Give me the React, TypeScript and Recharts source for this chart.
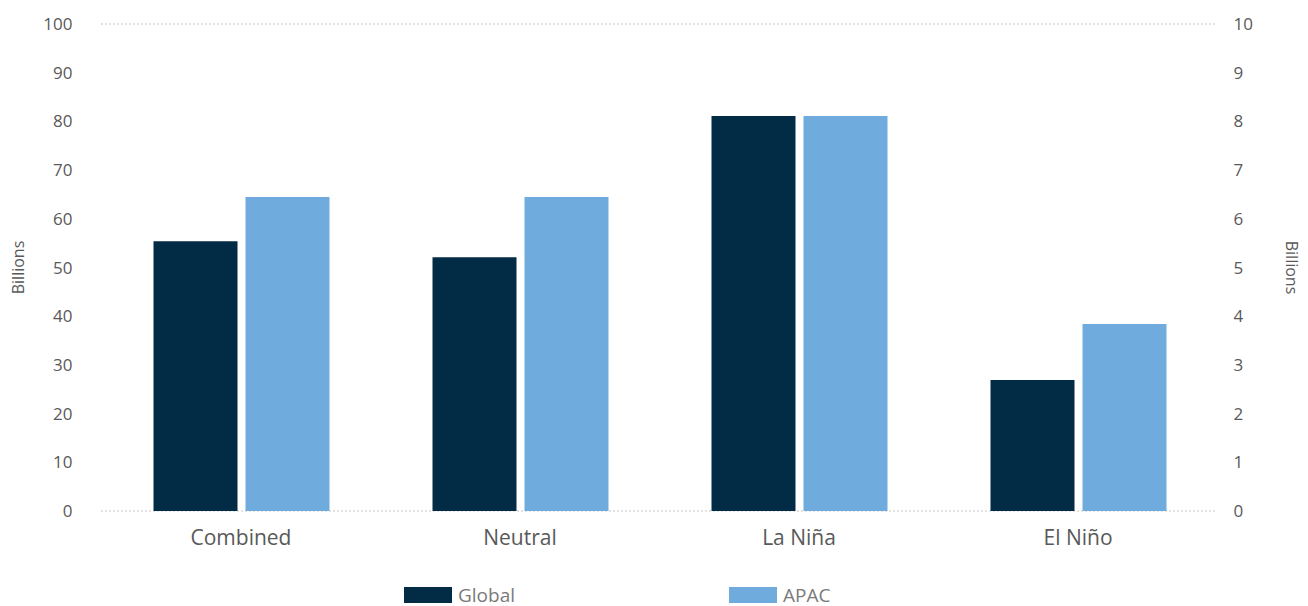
import React from "react";
import { BarChart, Bar, XAxis, YAxis, CartesianGrid } from "recharts";

// Categories and series values (Global on the left axis, APAC on the right axis, both in billions)
const categories = ["Combined", "Neutral", "La Niña", "El Niño"];
const globalValues = [55.4, 52.1, 81.1, 26.9];
const apacValues = [6.45, 6.45, 8.11, 3.84];
const leftTicks = [0, 10, 20, 30, 40, 50, 60, 70, 80, 90, 100];
const rightTicks = [0, 1, 2, 3, 4, 5, 6, 7, 8, 9, 10];

const data = categories.map((name, i) => ({
  name,
  Global: globalValues[i],
  APAC: apacValues[i],
}));

const FONT = "'Open Sans', sans-serif";
const GLOBAL_COLOR = "#022b45";
const APAC_COLOR = "#6facdd";
const TEXT_COLOR = "#595959";

const legendItems = [
  { label: "Global", color: GLOBAL_COLOR },
  { label: "APAC", color: APAC_COLOR },
];

export default function App() {
  return (
    <div style={{ position: "absolute", left: 0, top: 0, width: 1308, height: 606, background: "#fff" }}>
      <BarChart
        width={1308}
        height={606}
        data={data}
        margin={{ top: 24, right: 0, bottom: 65, left: 0 }}
        barGap={8}
        barSize={84}
      >
        <CartesianGrid vertical={false} stroke="#8c8c8c" strokeDasharray="1 3" />
        <XAxis
          dataKey="name"
          height={30}
          axisLine={false}
          tickLine={false}
          tickSize={0}
          tickMargin={19}
          tick={{ fill: TEXT_COLOR, fontSize: 21, fontFamily: FONT }}
        />
        <YAxis
          yAxisId="left"
          orientation="left"
          width={101.5}
          domain={[0, 100]}
          ticks={leftTicks}
          axisLine={false}
          tickLine={false}
          tickSize={0}
          tickMargin={29}
          tick={{ fill: TEXT_COLOR, fontSize: 17, fontFamily: FONT }}
          label={{
            value: "Billions",
            angle: -90,
            position: "insideLeft",
            offset: 18,
            style: { fill: TEXT_COLOR, fontSize: 16, fontFamily: FONT, textAnchor: "middle" },
          }}
        />
        <YAxis
          yAxisId="right"
          orientation="right"
          width={90.5}
          domain={[0, 10]}
          ticks={rightTicks}
          axisLine={false}
          tickLine={false}
          tickSize={0}
          tickMargin={16}
          tick={{ fill: TEXT_COLOR, fontSize: 17, fontFamily: FONT }}
          label={{
            value: "Billions",
            angle: 90,
            position: "insideRight",
            offset: 16,
            style: { fill: TEXT_COLOR, fontSize: 16, fontFamily: FONT, textAnchor: "middle" },
          }}
        />
        <Bar yAxisId="left" dataKey="Global" fill={GLOBAL_COLOR} isAnimationActive={false} />
        <Bar yAxisId="right" dataKey="APAC" fill={APAC_COLOR} isAnimationActive={false} />
      </BarChart>
      <div
        style={{
          position: "absolute",
          left: 404,
          top: 583,
          display: "flex",
          fontFamily: FONT,
          fontSize: 19,
          color: "#7a7a7a",
          lineHeight: "24px",
        }}
      >
        {legendItems.map((it) => (
          <div key={it.label} style={{ display: "flex", alignItems: "center", width: 325 }}>
            <span style={{ display: "inline-block", width: 48, height: 16, background: it.color, marginRight: 6 }} />
            <span>{it.label}</span>
          </div>
        ))}
      </div>
    </div>
  );
}
